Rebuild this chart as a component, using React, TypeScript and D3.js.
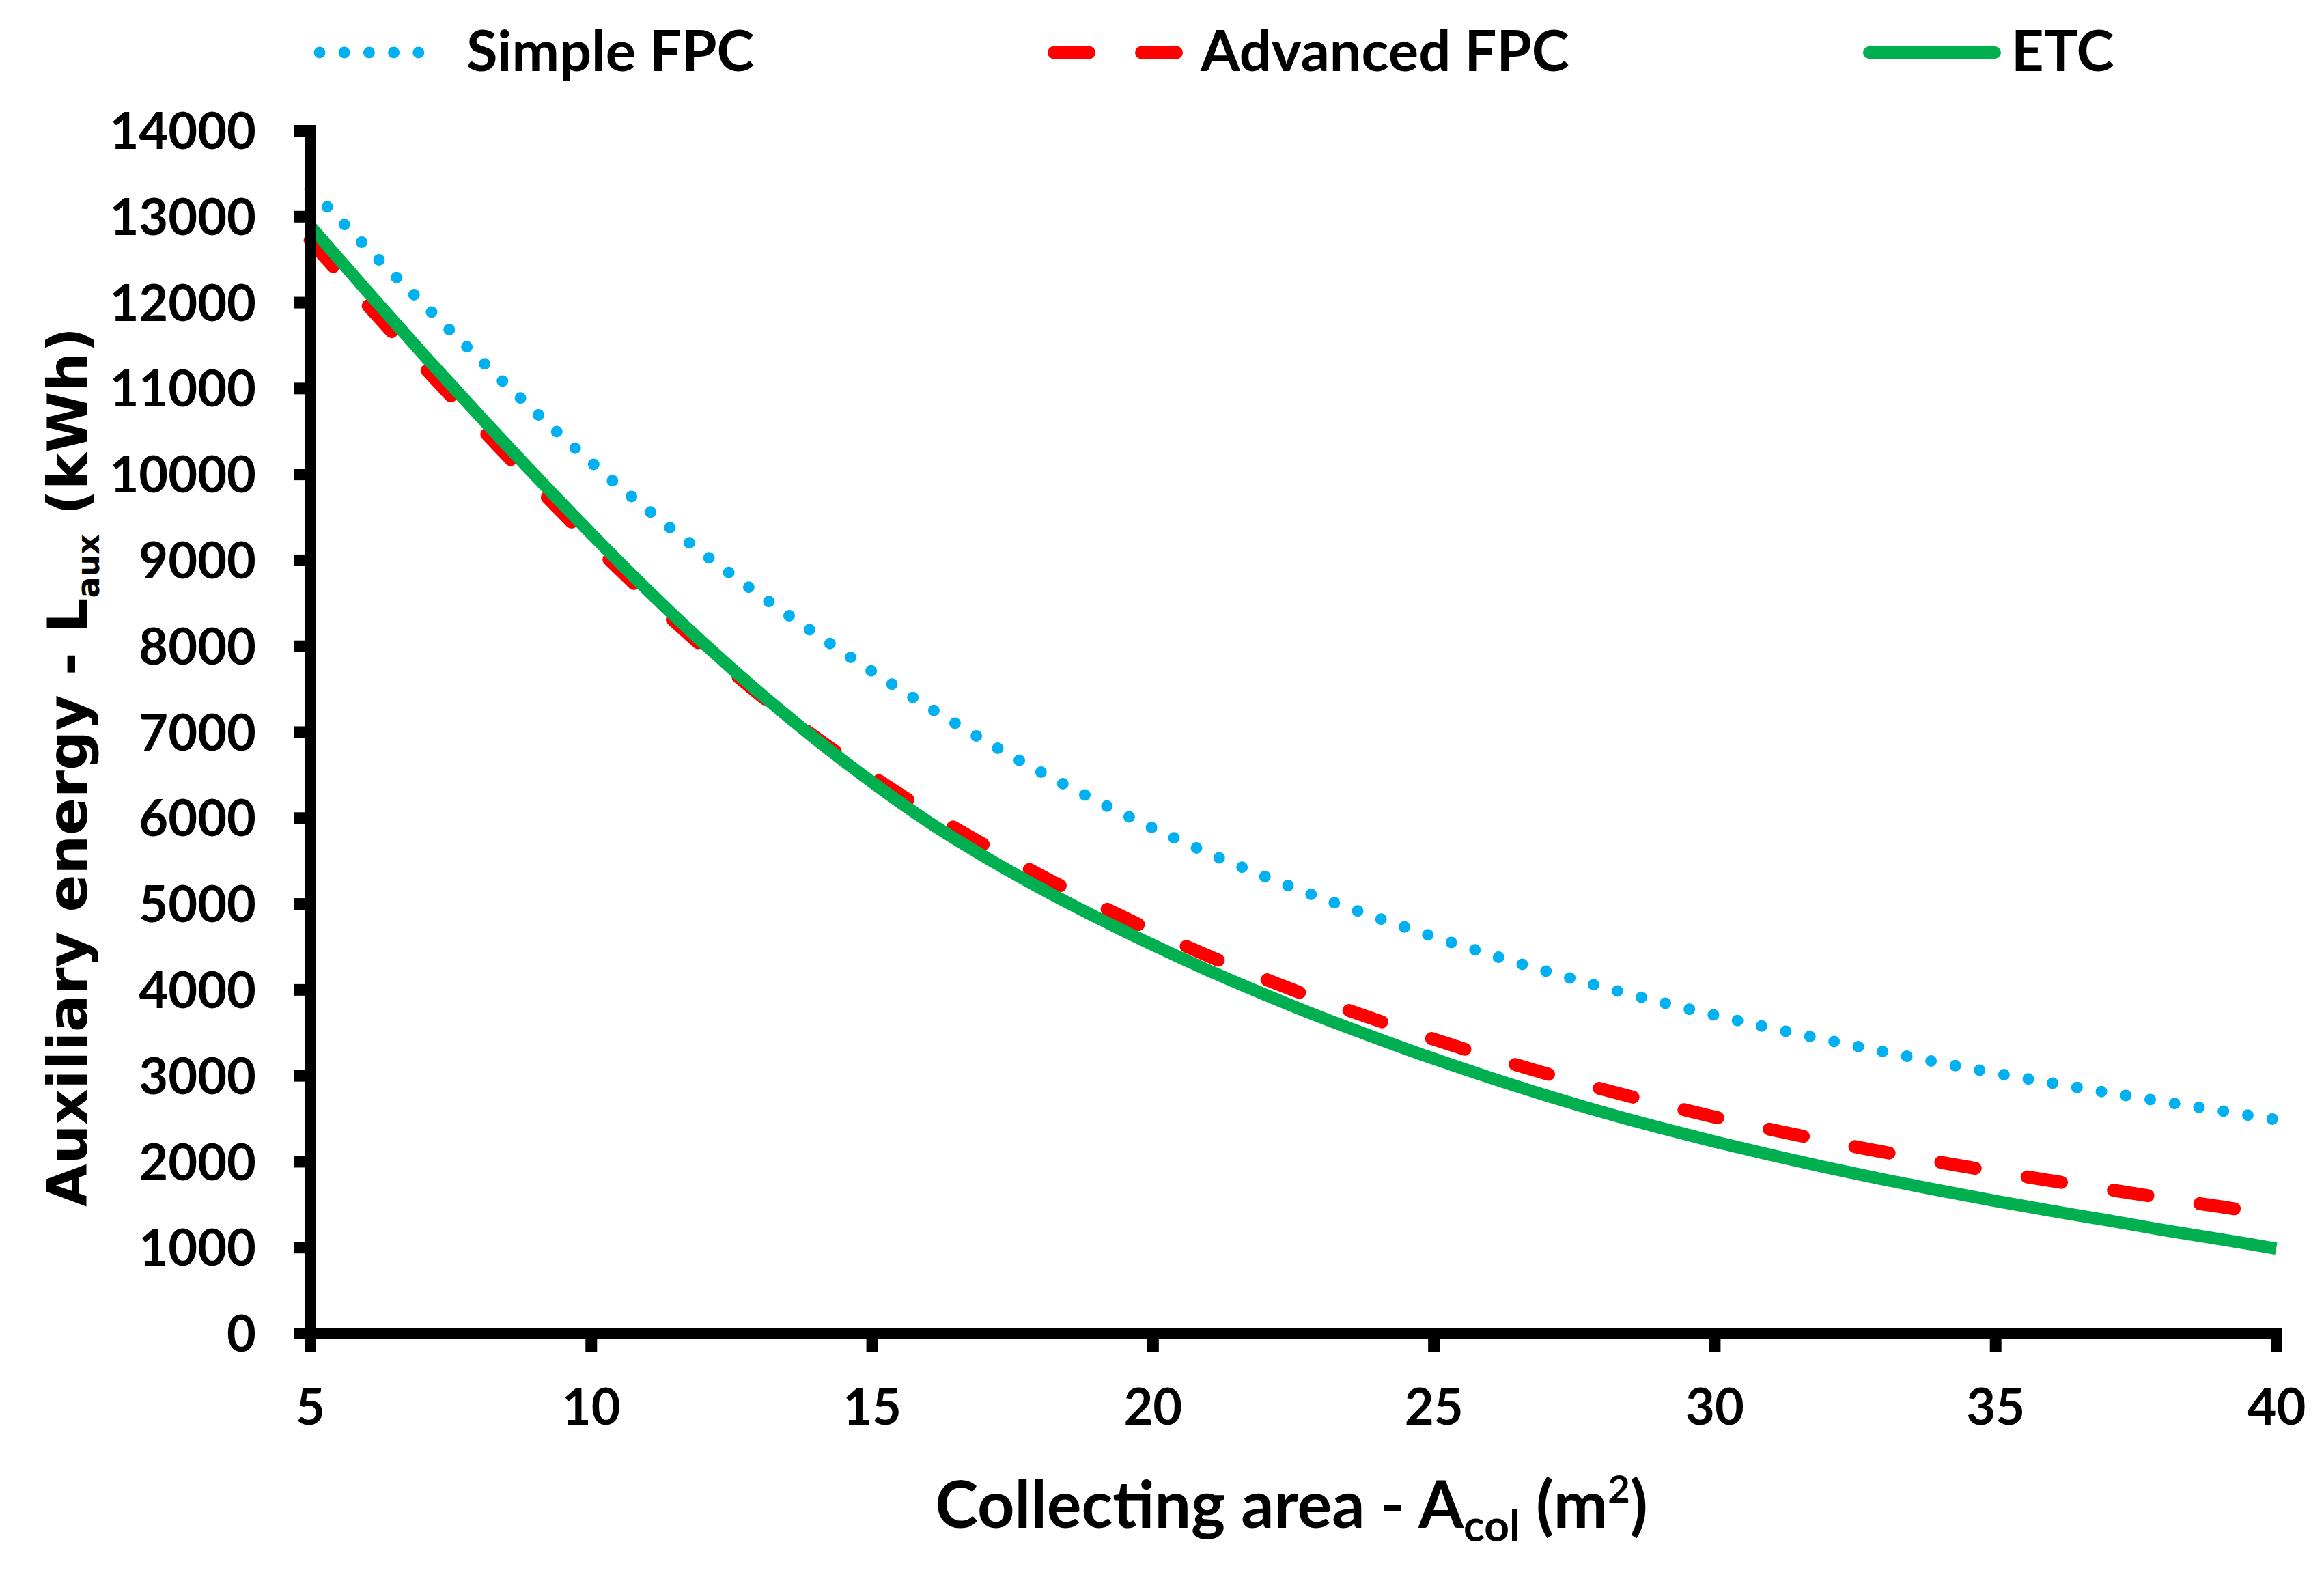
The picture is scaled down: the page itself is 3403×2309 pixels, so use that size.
import { useEffect, useRef } from "react"
import * as d3 from "d3"

const collectingArea = [
  5, 6, 7, 8, 9, 10, 11, 12, 13, 14, 15, 16, 17, 18, 19, 20, 21, 22, 23, 24, 25,
  26, 27, 28, 29, 30, 31, 32, 33, 34, 35, 36, 37, 38, 39, 40,
]
const simpleFpc = [
  13320, 12645, 11990, 11350, 10730, 10140, 9590, 9075, 8595, 8140, 7705, 7290,
  6900, 6535, 6195, 5880, 5585, 5315, 5065, 4835, 4615, 4408, 4213, 4030, 3860,
  3702, 3553, 3412, 3278, 3150, 3028, 2912, 2801, 2694, 2590, 2486,
]
const advancedFpc = [
  12720, 11985, 11265, 10565, 9880, 9215, 8580, 7985, 7435, 6935, 6485, 6065,
  5685, 5330, 4995, 4680, 4388, 4122, 3872, 3642, 3422, 3216, 3022, 2841, 2674,
  2517, 2371, 2236, 2110, 1992, 1880, 1774, 1674, 1572, 1473, 1378,
]
const etc = [
  12890, 12140, 11405, 10690, 9990, 9310, 8655, 8035, 7455, 6915, 6415, 5955,
  5550, 5180, 4840, 4520, 4220, 3940, 3675, 3430, 3195, 2975, 2768, 2575, 2397,
  2230, 2074, 1928, 1791, 1662, 1540, 1424, 1314, 1200, 1095, 985,
]
const seriesNames = ["Simple FPC", "Advanced FPC", "ETC"]
const yTicks = [
  0, 1000, 2000, 3000, 4000, 5000, 6000, 7000, 8000, 9000, 10000, 11000, 12000,
  13000, 14000,
]
const xTicks = [5, 10, 15, 20, 25, 30, 35, 40]

const labelFont = "Lato, 'Open Sans', sans-serif"
const titleFont = "'DejaVu Sans', Verdana, sans-serif"

export default function App() {
  const svgRef = useRef<SVGSVGElement>(null)

  useEffect(() => {
    if (!svgRef.current) return

    const width = 3403
    const height = 2309

    d3.select(svgRef.current).selectAll("*").remove()

    const svg = d3
      .select(svgRef.current)
      .attr("width", width)
      .attr("height", height)

    svg.append("rect").attr("width", width).attr("height", height).attr("fill", "#fff")

    const x = d3.scaleLinear().domain([5, 40]).range([454, 3333])
    const y = d3.scaleLinear().domain([0, 14000]).range([1952, 191])

    const styles = [
      { color: "#00b0f0", width: 17, dash: "0 36.2", cap: "round" },
      { color: "#ff0000", width: 19, dash: "51 77", cap: "round" },
      { color: "#00b050", width: 18, dash: null, cap: "butt" },
    ]
    const series = [simpleFpc, advancedFpc, etc]

    const line = d3
      .line<number>()
      .x((_, i) => x(collectingArea[i]))
      .y((d) => y(d))
      .curve(d3.curveMonotoneX)

    // Add the lines
    series.forEach((values, i) => {
      const s = styles[i]
      svg
        .append("path")
        .datum(values)
        .attr("fill", "none")
        .attr("stroke", s.color)
        .attr("stroke-width", s.width)
        .attr("stroke-linecap", s.cap)
        .attr("stroke-dasharray", s.dash)
        .attr("d", line)
    })

    // Add Y axis
    const yAxis = svg
      .append("g")
      .attr("transform", `translate(${x(5)},0)`)
      .call(
        d3
          .axisLeft(y)
          .tickValues(yTicks)
          .tickSize(24)
          .tickSizeOuter(0)
          .tickPadding(55)
          .tickFormat((d) => String(d))
      )
    yAxis.select(".domain").attr("stroke-width", 17).attr("stroke-linecap", "square")
    yAxis.selectAll(".tick line").attr("stroke-width", 17)
    yAxis
      .selectAll(".tick text")
      .attr("dy", "0.36em")
      .attr("font-family", labelFont)
      .attr("font-weight", "bold")
      .attr("font-size", 74)
      .attr("fill", "#000")

    // Add X axis
    const xAxis = svg
      .append("g")
      .attr("transform", `translate(0,${y(0)})`)
      .call(
        d3
          .axisBottom(x)
          .tickValues(xTicks)
          .tickSize(27)
          .tickSizeOuter(0)
          .tickFormat((d) => String(d))
      )
    xAxis.select(".domain").attr("stroke-width", 17).attr("stroke-linecap", "square")
    xAxis.selectAll(".tick line").attr("stroke-width", 17)
    xAxis
      .selectAll(".tick text")
      .attr("y", 134)
      .attr("dy", 0)
      .attr("font-family", labelFont)
      .attr("font-weight", "bold")
      .attr("font-size", 74)
      .attr("fill", "#000")

    // Legend
    const legendX = [
      { x0: 468, x1: 649, tx: 683 },
      { x0: 1543.5, x1: 1722.5, tx: 1758 },
      { x0: 2737, x1: 2921, tx: 2945 },
    ]
    seriesNames.forEach((name, i) => {
      const s = styles[i]
      const p = legendX[i]
      svg
        .append("line")
        .attr("x1", p.x0)
        .attr("x2", p.x1)
        .attr("y1", 77)
        .attr("y2", 77)
        .attr("stroke", s.color)
        .attr("stroke-width", s.width)
        .attr("stroke-linecap", i === 2 ? "round" : s.cap)
        .attr("stroke-dasharray", s.dash)
      svg
        .append("text")
        .attr("x", p.tx)
        .attr("y", 104)
        .attr("font-family", labelFont)
        .attr("font-weight", "bold")
        .attr("font-size", 83)
        .text(name)
    })

    // X axis title
    const xt = svg
      .append("text")
      .attr("x", 1891)
      .attr("y", 2237)
      .attr("text-anchor", "middle")
      .attr("font-family", labelFont)
      .attr("font-weight", "bold")
      .attr("font-size", 95)
    xt.append("tspan").text("Collecting area - A")
    xt.append("tspan").attr("font-size", 64).attr("dy", 20).text("col")
    xt.append("tspan").attr("dy", -20).text(" (m")
    xt.append("tspan").attr("font-size", 56).attr("dy", -37).text("2")
    xt.append("tspan").attr("dy", 37).text(")")

    // Y axis title
    const yt = svg
      .append("text")
      .attr("transform", "translate(127,1123) rotate(-90)")
      .attr("text-anchor", "middle")
      .attr("font-family", titleFont)
      .attr("font-weight", "bold")
      .attr("font-size", 81)
    yt.append("tspan").text("Auxiliary energy - L")
    yt.append("tspan").attr("font-size", 46).attr("dy", 18).text("aux")
    yt.append("tspan").attr("dy", -18).text(" (kWh)")
  }, [])

  return (
    <svg
      ref={svgRef}
      style={{ position: "absolute", left: 0, top: 0, display: "block" }}
    />
  )
}
